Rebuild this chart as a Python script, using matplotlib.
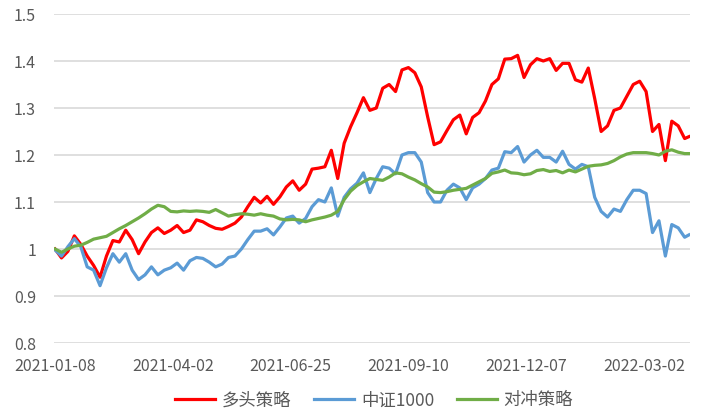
import numpy as np
import matplotlib
matplotlib.use("Agg")
from matplotlib import pyplot as plt

plt.rcParams['font.family'] = ['Noto Sans CJK SC', 'DejaVu Sans']

# trading-day index (every 3rd day), ticks every 55 trading days
day_idx = list(range(0, 295, 3)) + [296]
tick_idx = [0, 55, 110, 165, 220, 275]
tick_labels = ['2021-01-08', '2021-04-02', '2021-06-25', '2021-09-10', '2021-12-07', '2022-03-02']

long_strategy = [
    1.000, 0.981, 0.995, 1.028, 1.010, 0.985, 0.965, 0.940, 0.985, 1.018,
    1.015, 1.040, 1.020, 0.990, 1.015, 1.035, 1.045, 1.033, 1.040, 1.050,
    1.035, 1.040, 1.062, 1.058, 1.050, 1.044, 1.042, 1.048, 1.055, 1.068,
    1.090, 1.110, 1.098, 1.112, 1.095, 1.111, 1.132, 1.145, 1.125, 1.138,
    1.170, 1.172, 1.175, 1.210, 1.150, 1.225, 1.260, 1.290, 1.322, 1.295,
    1.300, 1.342, 1.350, 1.335, 1.381, 1.386, 1.375, 1.345, 1.281, 1.222,
    1.228, 1.252, 1.275, 1.285, 1.245, 1.280, 1.290, 1.315, 1.350, 1.362,
    1.404, 1.405, 1.412, 1.365, 1.392, 1.405, 1.400, 1.405, 1.380, 1.395,
    1.395, 1.360, 1.355, 1.385, 1.320, 1.250, 1.262, 1.295, 1.300, 1.325,
    1.350, 1.357, 1.335, 1.250, 1.265, 1.188, 1.272, 1.262, 1.235, 1.239,
]

csi1000 = [
    0.998, 0.985, 1.005, 1.022, 1.005, 0.962, 0.955, 0.922, 0.960, 0.990,
    0.972, 0.990, 0.955, 0.935, 0.945, 0.962, 0.945, 0.955, 0.960, 0.970,
    0.955, 0.975, 0.982, 0.980, 0.972, 0.962, 0.968, 0.982, 0.985, 1.000,
    1.020, 1.038, 1.038, 1.043, 1.030, 1.047, 1.066, 1.070, 1.055, 1.065,
    1.090, 1.105, 1.100, 1.130, 1.070, 1.110, 1.128, 1.140, 1.162, 1.120,
    1.150, 1.175, 1.172, 1.160, 1.200, 1.205, 1.205, 1.185, 1.120, 1.100,
    1.100, 1.125, 1.138, 1.130, 1.105, 1.130, 1.138, 1.150, 1.168, 1.172,
    1.207, 1.205, 1.218, 1.185, 1.200, 1.210, 1.195, 1.195, 1.185, 1.208,
    1.180, 1.170, 1.180, 1.175, 1.110, 1.080, 1.068, 1.085, 1.080, 1.105,
    1.125, 1.125, 1.118, 1.035, 1.060, 0.985, 1.052, 1.045, 1.025, 1.030,
]

hedge_strategy = [
    1.000, 0.993, 1.000, 1.006, 1.008, 1.014, 1.021, 1.024, 1.027, 1.035,
    1.043, 1.050, 1.058, 1.066, 1.075, 1.085, 1.093, 1.090, 1.080, 1.079,
    1.081, 1.080, 1.081, 1.080, 1.078, 1.084, 1.077, 1.070, 1.073, 1.075,
    1.074, 1.072, 1.075, 1.072, 1.070, 1.064, 1.062, 1.063, 1.062, 1.058,
    1.062, 1.065, 1.068, 1.072, 1.080, 1.105, 1.123, 1.135, 1.143, 1.150,
    1.148, 1.146, 1.153, 1.162, 1.160, 1.153, 1.147, 1.139, 1.132, 1.121,
    1.120, 1.122, 1.125, 1.127, 1.129, 1.136, 1.143, 1.150, 1.161, 1.164,
    1.168, 1.162, 1.161, 1.158, 1.160, 1.167, 1.169, 1.165, 1.167, 1.162,
    1.168, 1.164, 1.170, 1.176, 1.178, 1.179, 1.182, 1.188, 1.196, 1.202,
    1.205, 1.205, 1.205, 1.203, 1.200, 1.208, 1.211, 1.206, 1.203, 1.203,
]

fig = plt.figure(figsize=(7.02, 4.2), dpi=100)
ax = fig.add_axes([54 / 702, 1 - 343 / 420, 636 / 702, 329 / 420])

ax.plot(day_idx, long_strategy, color='#FF0000', lw=2.3, label='多头策略')
ax.plot(day_idx, csi1000, color='#5B9BD5', lw=2.3, label='中证1000')
ax.plot(day_idx, hedge_strategy, color='#70AD47', lw=2.3, label='对冲策略')

ax.set_ylim(0.8, 1.5)
ax.set_yticks([0.8, 0.9, 1.0, 1.1, 1.2, 1.3, 1.4, 1.5])
ax.set_yticklabels(['0.8', '0.9', '1', '1.1', '1.2', '1.3', '1.4', '1.5'])
ax.set_xlim(-0.5, 296.5)
ax.set_xticks(tick_idx)
ax.set_xticklabels(tick_labels)

ax.grid(axis='y', color='#D9D9D9', lw=1.2)
ax.set_axisbelow(True)
for s in ax.spines.values():
    s.set_visible(False)
ax.tick_params(axis='both', length=0, labelsize=11.5, labelcolor='#595959')
ax.tick_params(axis='y', pad=13)
ax.tick_params(axis='x', pad=11)

leg = fig.legend(loc='lower center', bbox_to_anchor=(0.533, -0.012), ncol=3, frameon=False,
                 fontsize=12.5, handlelength=2.3, columnspacing=1.3, handletextpad=0.4)
for t in leg.get_texts():
    t.set_color('#595959')

fig.savefig('out.png', dpi=100)
